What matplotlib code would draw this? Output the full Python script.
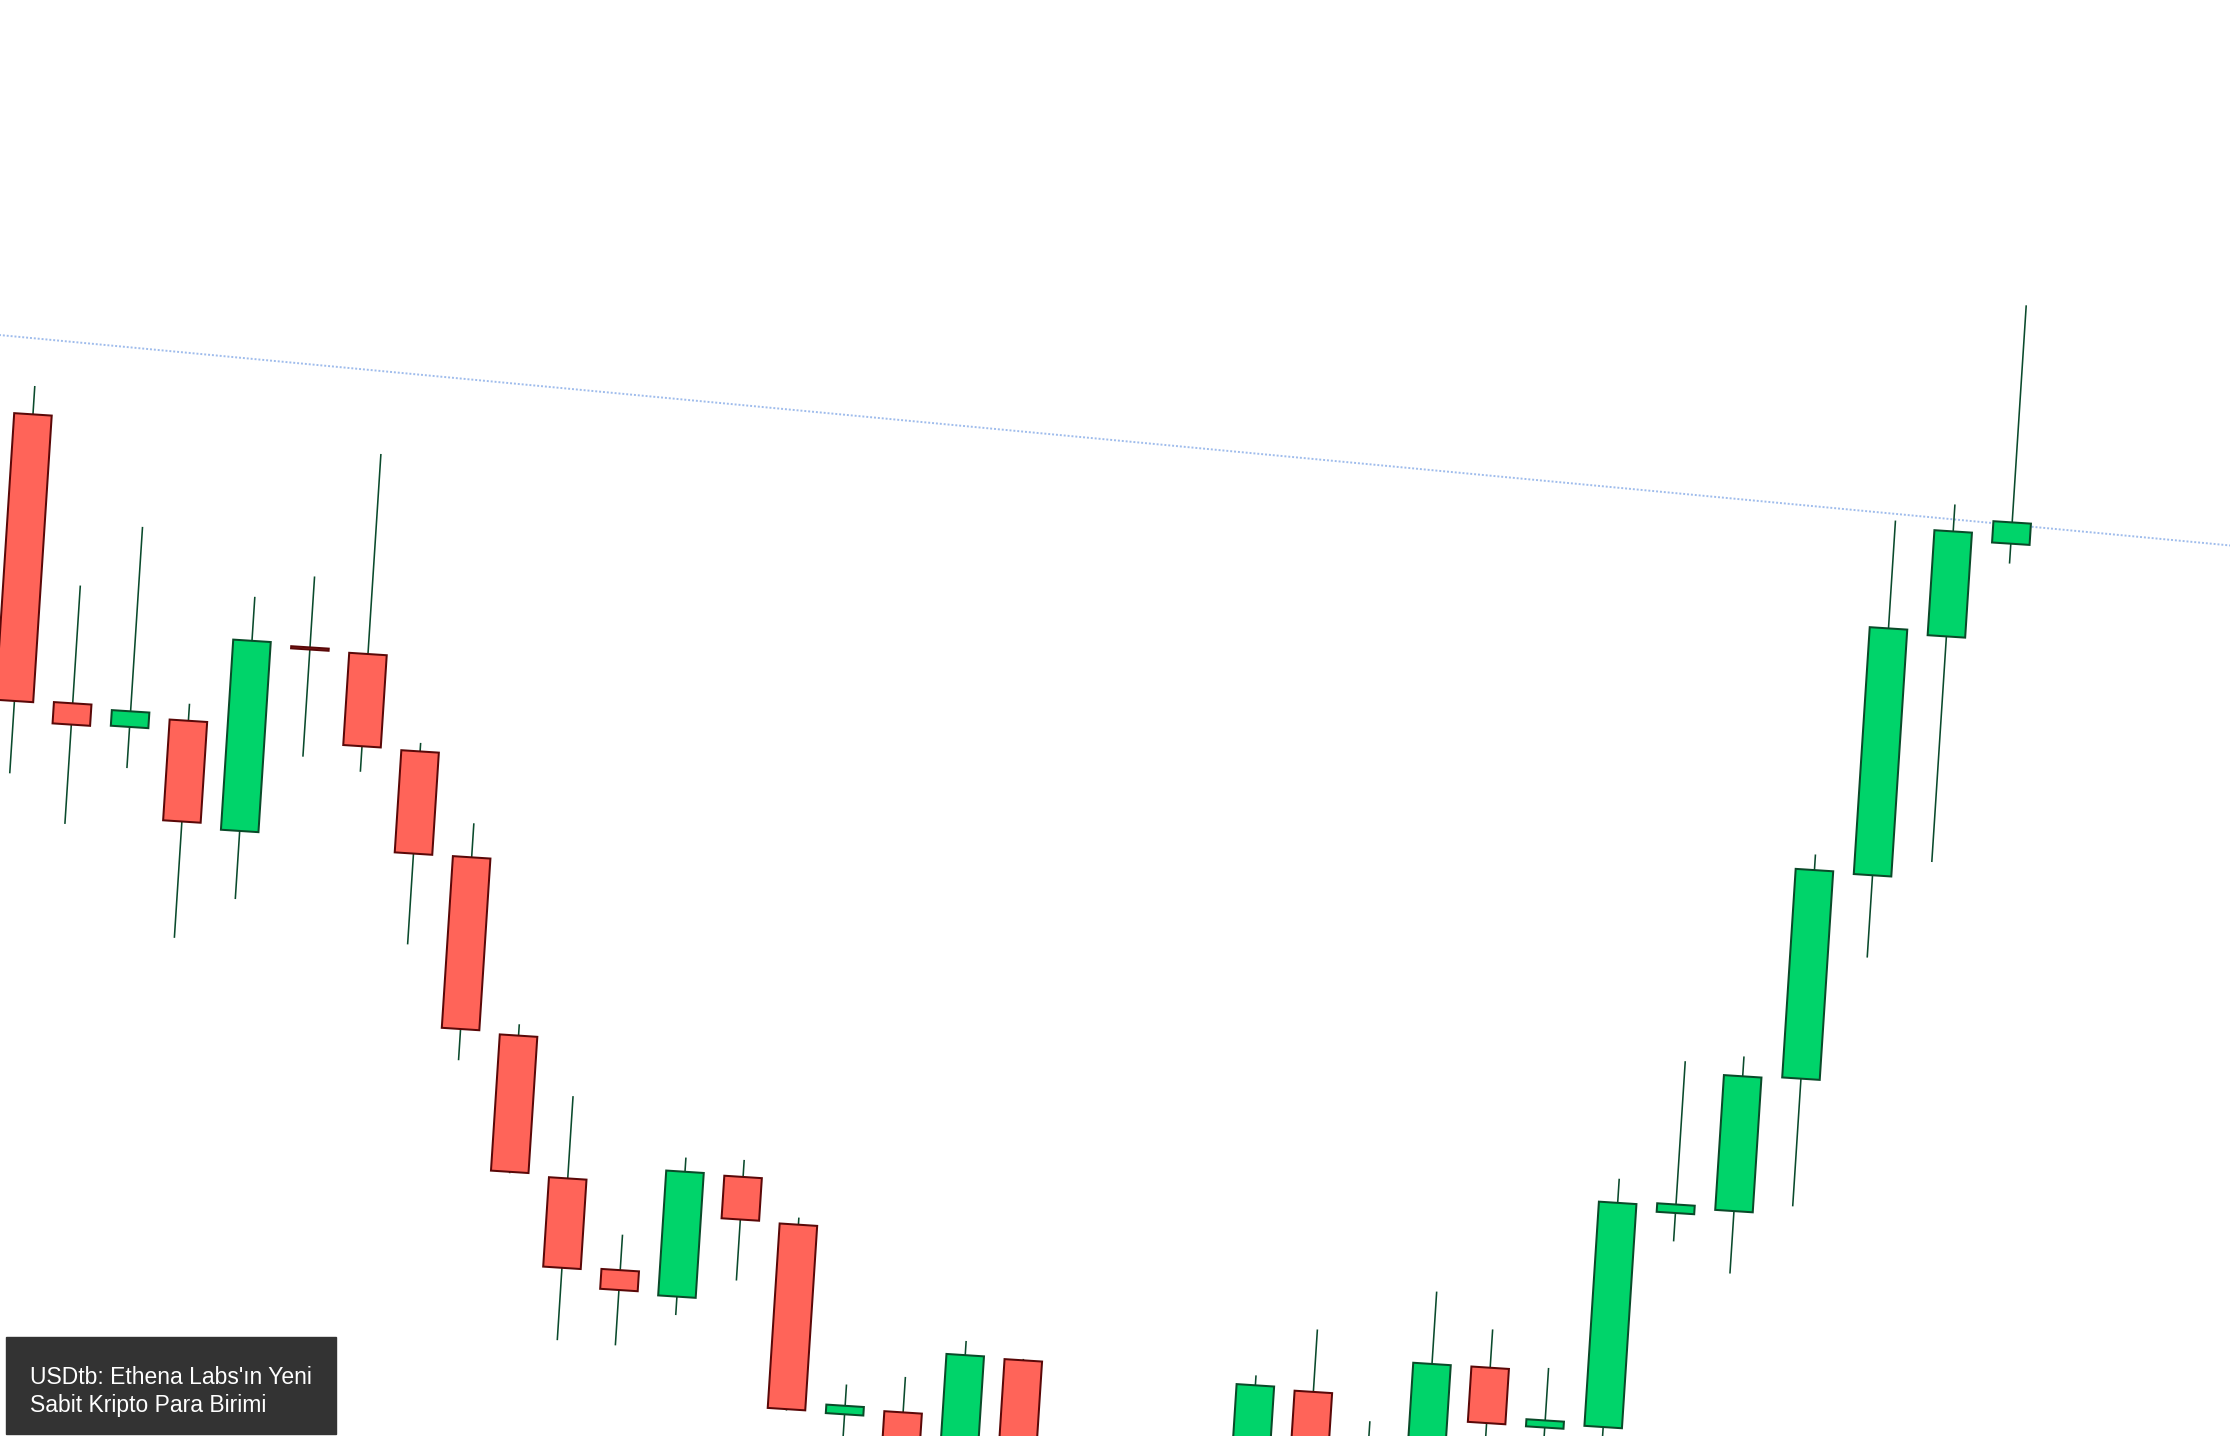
import numpy as np
import matplotlib
matplotlib.use("Agg")
import matplotlib.pyplot as plt
from matplotlib.patches import Rectangle
from matplotlib.transforms import Affine2D

# --- Candles (arbitrary price units, one per period) ---
# candles 20-22 sit below the visible window
OPEN = [66.9, 46.8, 45.4, 46.1, 38.6, 51.8, 51.6, 45.0, 37.8, 25.5,
        15.7, 9.5, 7.9, 16.6, 13.5, 0.4, 0.8, -6.7, 5.0, -9.5,
        -14.0, -7.0, -6.4, 4.1, -3.9, -1.6, 6.6, 2.65, 2.95, 18.3,
        18.7, 28.3, 42.9, 60.0, 66.8]
HIGH = [68.9, 55.1, 59.5, 47.3, 55.1, 56.8, 65.7, 45.6, 40.2, 26.3,
        21.5, 12.0, 17.7, 17.8, 14.0, 2.5, 3.3, 6.1, 5.1, -6.0,
        -4.0, -3.0, 5.0, 8.5, 2.3, 11.7, 9.3, 6.85, 20.45, 29.0,
        29.6, 44.1, 67.9, 69.3, 83.6]
LOW = [41.6, 38.3, 42.5, 30.8, 33.8, 44.1, 43.3, 31.4, 23.5, 15.8,
       4.3, 4.2, 6.6, 9.3, 0.4, -3.2, -6.0, -8.7, -11.4, -16.0,
       -17.0, -12.0, -9.4, -7.1, -5.9, -3.6, 0.2, 0.95, 1.25, 16.3,
       14.3, 19.3, 37.1, 44.1, 65.4]
CLOSE = [46.7, 45.3, 46.5, 39.0, 52.0, 51.65, 45.1, 37.8, 25.7, 15.9,
         9.4, 8.1, 16.7, 13.6, 0.5, 1.0, -4.0, 5.1, -9.4, -14.0,
         -7.0, -10.0, 4.3, -5.1, 0.1, 6.6, 2.7, 3.15, 18.75, 18.9,
         28.2, 43.0, 60.3, 67.4, 68.3]

# dotted resistance line (two end points)
TREND_X = [-3, 40]
TREND_Y = [72.6, 67.4]

CAPTION = ["USDtb: Ethena Labs'ın Yeni", "Sabit Kripto Para Birimi"]

UP_FILL, UP_EDGE = "#00d46a", "#0a4a29"
DOWN_FILL, DOWN_EDGE = "#ff6459", "#5a0808"
WICK = "#0a4a2c"
TREND_COLOR = "#9fbcec"
TILT_DEG = 3.7  # the whole chart is turned slightly clockwise


def draw_chart():
    fig = plt.figure(figsize=(22.3, 14.36), dpi=100)
    ax = fig.add_axes([0, 0, 1, 1])
    ax.set_xlim(-0.268, 37.985)
    ax.set_ylim(0, 101)
    ax.set_autoscale_on(False)
    ax.axis("off")

    w, h = fig.bbox.width, fig.bbox.height
    tr = ax.transData + Affine2D().rotate_deg_around(w / 2, h / 2, -TILT_DEG)

    o = np.array(OPEN)
    hi = np.array(HIGH)
    lo = np.array(LOW)
    c = np.array(CLOSE)
    idx = np.arange(len(o))
    up = c >= o

    ax.plot(TREND_X, TREND_Y, color=TREND_COLOR, lw=1.4, ls=(0, (1, 1)),
            transform=tr, zorder=1)

    ax.vlines(idx, lo, hi, colors=WICK, linewidth=1.15, transform=tr, zorder=2)
    ax.bar(idx, np.abs(c - o), bottom=np.minimum(o, c), width=0.645,
           color=np.where(up, UP_FILL, DOWN_FILL),
           edgecolor=np.where(up, UP_EDGE, DOWN_EDGE),
           linewidth=1.45, transform=tr, zorder=3)

    # caption box bottom-left
    fig.add_artist(Rectangle((0.0026, 0.0017), 0.148, 0.0673,
                             transform=fig.transFigure, color="#333333", zorder=5))
    fig.text(0.0134, 0.0309, "\n".join(CAPTION), color="white", fontsize=16.5,
             family=["Liberation Sans", "DejaVu Sans"], va="center", ha="left",
             linespacing=1.3, zorder=6)

    fig.savefig("out.png", dpi=100)


if __name__ == "__main__":
    draw_chart()
